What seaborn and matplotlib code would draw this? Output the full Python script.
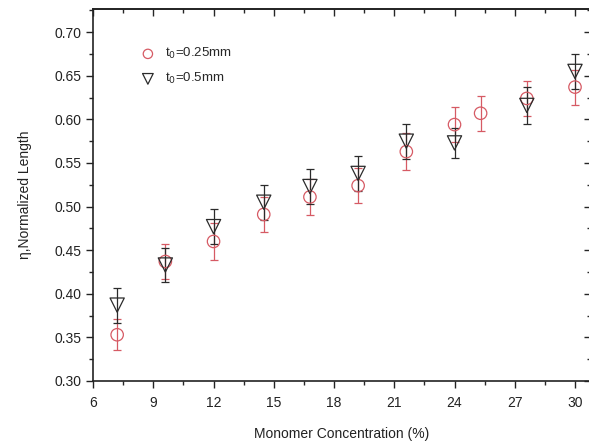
import numpy as np
import pandas as pd
import matplotlib
matplotlib.use("Agg")
import matplotlib.pyplot as plt
import seaborn as sns
from matplotlib.ticker import MultipleLocator

# data
x_025 = [7.2, 9.6, 12.0, 14.5, 16.8, 19.2, 21.6, 24.0, 25.3, 27.6, 30.0]
y_025 = [0.353, 0.437, 0.460, 0.491, 0.511, 0.524, 0.563, 0.594, 0.607, 0.624, 0.637]
e_025 = [0.018, 0.020, 0.021, 0.020, 0.021, 0.020, 0.021, 0.020, 0.020, 0.020, 0.020]

x_05 = [7.2, 9.6, 12.0, 14.5, 16.8, 19.2, 21.6, 24.0, 27.6, 30.0]
y_05 = [0.387, 0.433, 0.477, 0.505, 0.523, 0.538, 0.575, 0.573, 0.616, 0.655]
e_05 = [0.020, 0.020, 0.020, 0.020, 0.020, 0.020, 0.020, 0.017, 0.021, 0.020]

labels = ["t$_0$=0.25mm", "t$_0$=0.5mm"]
x_ticks = [6, 9, 12, 15, 18, 21, 24, 27, 30]
y_ticks = [0.30, 0.35, 0.40, 0.45, 0.50, 0.55, 0.60, 0.65, 0.70]

df = pd.concat([
    pd.DataFrame({"x": x_025, "y": y_025, "e": e_025, "series": labels[0]}),
    pd.DataFrame({"x": x_05, "y": y_05, "e": e_05, "series": labels[1]}),
], ignore_index=True)

sns.set_theme(style="ticks")
plt.rcParams["font.family"] = ["Liberation Sans", "DejaVu Sans"]

fig = plt.figure(figsize=(5.89, 4.43), dpi=100)
ax = fig.add_axes([0.158, 0.14, 0.8455, 0.8386])

colors = {labels[0]: "#d65a64", labels[1]: "#2b2b2b"}
markers = {labels[0]: "o", labels[1]: "v"}
sizes = {labels[0]: 80, labels[1]: 105}

for lab in labels:
    d = df[df.series == lab]
    ax.errorbar(d.x, d.y, yerr=d.e, fmt="none", ecolor=colors[lab],
                elinewidth=0.9, capsize=3, capthick=0.9, zorder=2)

for lab in labels:
    d = df[df.series == lab]
    sns.scatterplot(data=d, x="x", y="y", ax=ax, marker=markers[lab],
                    s=sizes[lab], facecolors="none", edgecolor=colors[lab],
                    linewidth=0.9, label=lab, zorder=3)

ax.set_xlim(6, 30.8)
ax.set_ylim(0.30, 0.726)
ax.set_xticks(x_ticks)
ax.set_yticks(y_ticks)
ax.set_yticklabels([f"{v:.2f}" for v in y_ticks])
ax.xaxis.set_minor_locator(MultipleLocator(1.5))
ax.yaxis.set_minor_locator(MultipleLocator(0.025))

ax.tick_params(axis="both", which="major", direction="out", length=5, width=1,
               labelsize=10, colors="#222222")
ax.tick_params(axis="x", which="major", pad=6)
ax.tick_params(axis="both", which="minor", direction="out", length=3, width=1)
secx = ax.secondary_xaxis("top")
secx.set_xticks(x_ticks)
secx.xaxis.set_minor_locator(MultipleLocator(1.5))
secx.tick_params(which="major", direction="in", length=5, width=1, labeltop=False)
secx.tick_params(which="minor", direction="in", length=3, width=1)
secy = ax.secondary_yaxis("right")
secy.set_yticks(y_ticks)
secy.yaxis.set_minor_locator(MultipleLocator(0.025))
secy.tick_params(which="major", direction="in", length=5, width=1, labelright=False)
secy.tick_params(which="minor", direction="in", length=3, width=1)
ax.tick_params(which="both", top=False, right=False)

for sp in ax.spines.values():
    sp.set_linewidth(1.2)
    sp.set_color("#222222")

ax.set_xlabel("Monomer Concentration (%)", fontsize=10, color="#222222", labelpad=12)
ax.set_ylabel("η,Normalized Length", fontsize=10, color="#222222", labelpad=16)

leg = ax.legend(loc="upper left", bbox_to_anchor=(0.073, 0.915), frameon=False,
                fontsize=9.5, handletextpad=0.3, labelspacing=0.75,
                markerscale=0.75, borderaxespad=0)

fig.savefig("out.png", dpi=100)
